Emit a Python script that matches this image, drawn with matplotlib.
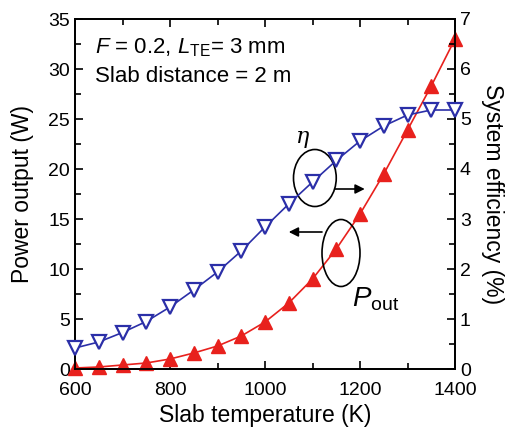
import numpy as np
import matplotlib
matplotlib.use("Agg")
import matplotlib.pyplot as plt
from matplotlib.patches import Ellipse
from matplotlib.ticker import MultipleLocator

plt.rcParams['font.family'] = ['Liberation Sans', 'DejaVu Sans']
plt.rcParams['mathtext.fontset'] = 'custom'
plt.rcParams['mathtext.rm'] = 'Liberation Sans'
plt.rcParams['mathtext.it'] = 'Liberation Sans:italic'

# slab temperature (K)
temperature = [600, 650, 700, 750, 800, 850, 900, 950, 1000, 1050,
               1100, 1150, 1200, 1250, 1300, 1350, 1400]
# power output (W), left axis
power_out = [0.1, 0.2, 0.4, 0.6, 1.0, 1.6, 2.3, 3.3, 4.7, 6.6,
             9.0, 12.0, 15.5, 19.5, 23.9, 28.3, 33.0]
# system efficiency (%), right axis
efficiency = [0.42, 0.54, 0.73, 0.95, 1.24, 1.58, 1.94, 2.36, 2.84, 3.30,
              3.74, 4.17, 4.56, 4.86, 5.08, 5.18, 5.18]

blue = '#2B2FA8'
red = '#E8211D'

fig = plt.figure(figsize=(5.17, 4.36), dpi=100)
ax = fig.add_axes([75 / 517, 1 - 369 / 436, 380 / 517, 350 / 436])
ax2 = ax.twinx()

ax.plot(temperature, power_out, color=red, marker='^', markersize=10.5,
        linewidth=1.2, clip_on=False, zorder=3)
ax2.plot(temperature, efficiency, color=blue, marker='v', markersize=10,
         markerfacecolor='white', markeredgewidth=1.6, linewidth=1.2,
         clip_on=False, zorder=3)

ax.set_xlim(600, 1400)
ax.set_ylim(0, 35)
ax2.set_ylim(0, 7)

ax.xaxis.set_major_locator(MultipleLocator(200))
ax.xaxis.set_minor_locator(MultipleLocator(100))
ax.yaxis.set_major_locator(MultipleLocator(5))
ax.yaxis.set_minor_locator(MultipleLocator(2.5))
ax2.yaxis.set_major_locator(MultipleLocator(1))
ax2.yaxis.set_minor_locator(MultipleLocator(0.5))

for a in (ax, ax2):
    a.tick_params(which='both', direction='in', labelsize=14, width=1.2)
    a.tick_params(which='major', length=6)
    a.tick_params(which='minor', length=4)
    for s in a.spines.values():
        s.set_linewidth(1.3)
ax.tick_params(which='both', top=True, right=False)
ax.tick_params(axis='x', pad=9)

ax.set_xlabel('Slab temperature (K)', fontsize=16.5, labelpad=4)
ax.set_ylabel('Power output (W)', fontsize=16.5, labelpad=10)
ax2.set_ylabel('System efficiency (%)', fontsize=16.5, rotation=270, labelpad=24)

ax.text(0.053, 0.917, r'$F$ = 0.2, $L_{\rm TE}$= 3 mm', transform=ax.transAxes,
        fontsize=16, va='center')
ax.text(0.053, 0.837, 'Slab distance = 2 m', transform=ax.transAxes,
        fontsize=16, va='center')

# annotation ellipses and arrows
ax.add_patch(Ellipse((1105, 19.1), 90, 5.7, fill=False, edgecolor='black', lw=1.2, zorder=4))
ax.add_patch(Ellipse((1160, 11.6), 80, 6.7, fill=False, edgecolor='black', lw=1.2, zorder=4))
ax.annotate('', xy=(1210, 18.0), xytext=(1147, 18.0),
            arrowprops=dict(arrowstyle='-|>', color='black', lw=1.2,
                            mutation_scale=14, shrinkA=0, shrinkB=0))
ax.annotate('', xy=(1050, 13.7), xytext=(1120, 13.7),
            arrowprops=dict(arrowstyle='-|>', color='black', lw=1.2,
                            mutation_scale=14, shrinkA=0, shrinkB=0))
ax.text(1080, 23.2, 'η', fontsize=16, family='DejaVu Serif', style='italic',
        ha='center', va='center')
ax.text(1183, 7.0, r'$P_{\rm out}$', fontsize=20, ha='left', va='center')

fig.savefig('out.png', dpi=100)
